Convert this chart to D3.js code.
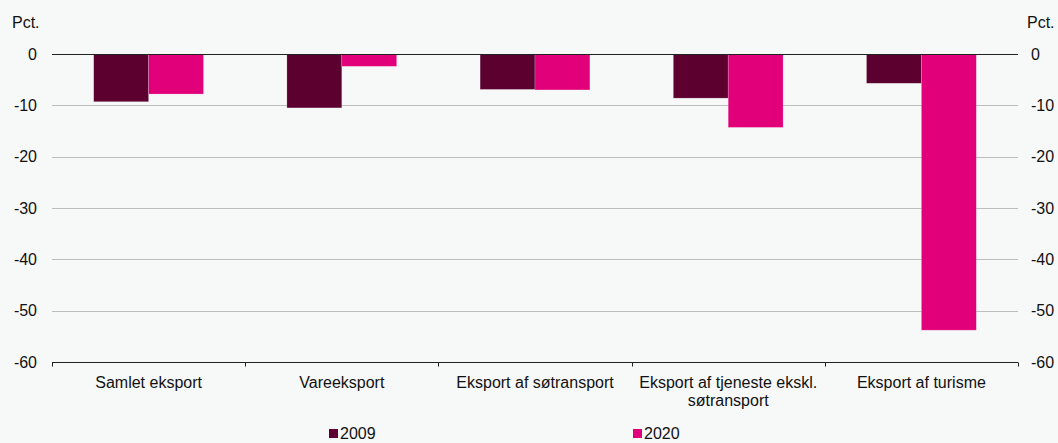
<!DOCTYPE html>
<html>
<head>
<meta charset="utf-8">
<script src="https://cdn.jsdelivr.net/npm/d3@7"></script>
<style>
  body { margin: 0; background: #f7f8f8; }
  svg { display: block; font-family: "Liberation Sans", Arial, sans-serif; }
</style>
</head>
<body>
<div id="chart"></div>
<script>
// data
var categories = ["Samlet eksport", "Vareeksport", "Eksport af søtransport",
                  "Eksport af tjeneste ekskl. søtransport", "Eksport af turisme"];
var series = ["2009", "2020"];
var values2009 = [-9.3, -10.5, -6.9, -8.6, -5.7];
var values2020 = [-7.8, -2.4, -7.0, -14.3, -53.8];
var yTicks = [0, -10, -20, -30, -40, -50, -60];
var colors = ["#5c0030", "#e2007a"];

var W = 1058, H = 443;
var margin = {top: 54, right: 40, bottom: 81, left: 52};
var width = W - margin.left - margin.right,
    height = H - margin.top - margin.bottom;
var FONT = "Liberation Sans, Arial, sans-serif";
var fs = 16;

var svg = d3.select("#chart").append("svg")
    .attr("width", W).attr("height", H);
var g = svg.append("g")
    .attr("transform", "translate(" + margin.left + "," + margin.top + ")");

var x = d3.scaleBand().domain(categories).range([0, width]);
var x1 = d3.scaleBand().domain(series).range([0, x.bandwidth()]).paddingOuter(0.76);
var y = d3.scaleLinear().domain([0, -60]).range([0, height]);

// gridlines
g.selectAll(".grid").data(yTicks.filter(function(d){ return d !== 0 && d !== -60; }))
  .enter().append("line")
    .attr("x1", 0).attr("x2", width)
    .attr("y1", function(d){ return Math.round(y(d)) + 0.5; })
    .attr("y2", function(d){ return Math.round(y(d)) + 0.5; })
    .attr("stroke", "#bdbdbd").attr("stroke-width", 1);

// bars
var data = categories.map(function(c, i){
  return {cat: c, vals: [{s: "2009", v: values2009[i]}, {s: "2020", v: values2020[i]}]};
});
var grp = g.selectAll(".cat").data(data).enter().append("g")
    .attr("transform", function(d){ return "translate(" + x(d.cat) + ",0)"; });
grp.selectAll("rect").data(function(d){ return d.vals; }).enter().append("rect")
    .attr("x", function(d){ return x1(d.s); })
    .attr("y", y(0))
    .attr("width", x1.bandwidth())
    .attr("height", function(d){ return y(d.v) - y(0); })
    .attr("fill", function(d, i){ return colors[i]; })
    .attr("stroke", "#f7f8f8").attr("stroke-opacity", 0.35).attr("stroke-width", 0.6);

// zero line
g.append("line").attr("x1", 0).attr("x2", width)
  .attr("y1", Math.round(y(0)) + 0.5).attr("y2", Math.round(y(0)) + 0.5)
  .attr("stroke", "#222").attr("stroke-width", 1.2);

// bottom axis line with ticks at boundaries
var bottomY = Math.round(y(-60)) + 0.5;
g.append("line").attr("x1", 0).attr("x2", width)
  .attr("y1", bottomY).attr("y2", bottomY)
  .attr("stroke", "#222").attr("stroke-width", 1);
var bounds = categories.map(function(c){ return x(c); }).concat([width]);
g.selectAll(".btick").data(bounds).enter().append("line")
  .attr("x1", function(d){ return Math.round(d) + 0.5; })
  .attr("x2", function(d){ return Math.round(d) + 0.5; })
  .attr("y1", bottomY).attr("y2", bottomY + 4)
  .attr("stroke", "#222");

// y axes
var fmt = function(d){ return String(d); };
var yLeft = d3.axisLeft(y).tickValues(yTicks).tickFormat(fmt).tickSize(0).tickPadding(15);
g.append("g").call(yLeft).call(function(s){ s.select(".domain").remove(); })
  .attr("font-family", FONT).attr("font-size", fs)
  .selectAll("text").attr("fill", "#111");
var yRight = d3.axisRight(y).tickValues(yTicks).tickFormat(fmt).tickSize(0).tickPadding(13);
g.append("g").attr("transform", "translate(" + width + ",0)").call(yRight)
  .call(function(s){ s.select(".domain").remove(); })
  .attr("font-family", FONT).attr("font-size", fs)
  .selectAll("text").attr("fill", "#111");

// unit labels
svg.append("text").attr("x", 12).attr("y", 28).attr("font-size", fs).attr("fill", "#111").text("Pct.");
svg.append("text").attr("x", 1027).attr("y", 28).attr("font-size", fs).attr("fill", "#111").text("Pct.");

// category labels
var labelLines = {
  "Eksport af tjeneste ekskl. søtransport": ["Eksport af tjeneste ekskl.", "søtransport"]
};
g.selectAll(".xlab").data(categories).enter().append("text")
  .attr("text-anchor", "middle")
  .attr("font-size", fs).attr("fill", "#111")
  .attr("transform", function(d){ return "translate(" + (x(d) + x.bandwidth() / 2) + "," + (height + 26) + ")"; })
  .each(function(d){
    var lines = labelLines[d] || [d];
    var t = d3.select(this);
    lines.forEach(function(l, i){
      t.append("tspan").attr("x", 0).attr("dy", i === 0 ? 0 : 18).text(l);
    });
  });

// legend
var legendX = [329, 633];
var legend = svg.selectAll(".legend").data(series).enter().append("g")
  .attr("transform", function(d, i){ return "translate(" + legendX[i] + "," + 429 + ")"; });
legend.append("rect").attr("width", 9).attr("height", 9)
  .attr("fill", function(d, i){ return colors[i]; });
legend.append("text").attr("x", 11).attr("y", 10).attr("font-size", fs).attr("fill", "#111")
  .text(function(d){ return d; });
</script>
</body>
</html>
